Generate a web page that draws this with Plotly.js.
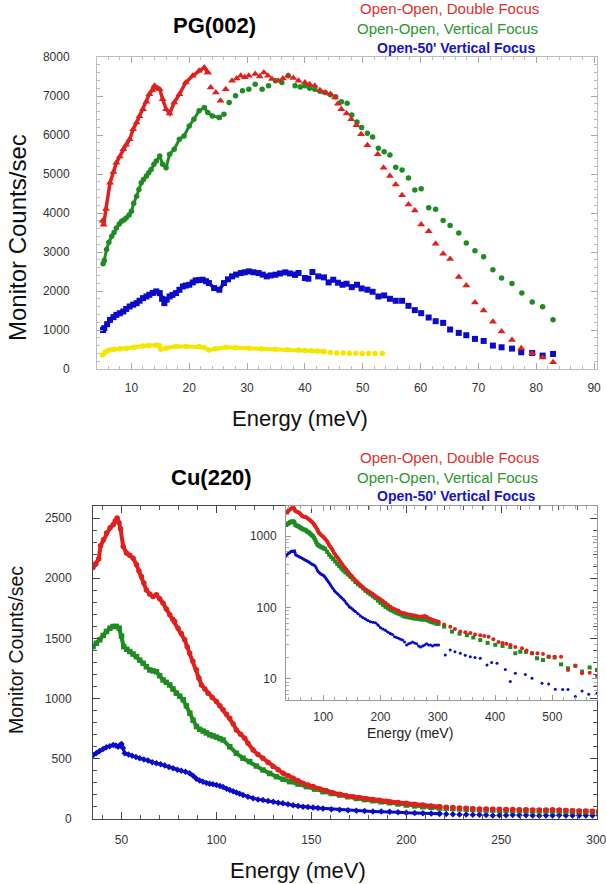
<!DOCTYPE html>
<html>
<head>
<meta charset="utf-8">
<script src="https://cdn.plot.ly/plotly-3.0.1.min.js"></script>
<style>html,body{margin:0;padding:0;background:#fff;}#chart{width:606px;height:884px;}</style>
</head>
<body>
<div id="chart"></div>
<script>
// ---------------- PG(002) data (Energy meV, Monitor counts/sec) ----------------
const pgRedE = [5.0,5.2,5.6,6.3,6.9,7.4,8.0,8.6,9.1,9.7,10.3,10.9,11.4,12.0,12.6,13.1,13.6,14.0,14.5,14.9,15.4,16.0,16.6,17.4,18.3,19.4,20.6,21.7,22.6,23.2,
  23.7,24.6,25.4,26.3,27.4,28.2,28.9,29.6,30.3,31.4,32.2,32.9,33.6,34.3,35.4,36.2,37.1,38.0,38.9,40.0,40.8,41.7,42.6,43.5,44.4,45.2,45.7,46.3,47.2,48.0,48.9,49.7,50.8,52.6,53.6,54.7,55.7,56.8,57.9,59.0,60.1,61.4,62.6,63.9,65.1,66.6,67.9,69.4,70.9,72.5,74.0,75.8,77.4,79.3,81.1,82.9];
const pgRedC = [3800,3700,4100,4776,5050,5290,5450,5633,5750,5890,6150,6319,6480,6661,6850,7047,7150,7262,7200,7176,6919,6661,6550,6833,7047,7347,7519,7647,7733,7605,
  7218,7090,6876,7176,7390,7450,7519,7480,7519,7562,7500,7605,7520,7433,7390,7450,7519,7460,7390,7347,7300,7262,7150,7090,7050,6962,6800,6661,6550,6404,6250,6018,5735,5504,5161,4947,4733,4458,4218,4064,3703,3532,3214,2957,2820,2357,2143,1706,1500,1209,960,746,532,403,292,172];
const pgGreenE = [5.1,5.3,5.7,6.1,6.6,7.0,7.4,7.9,8.3,8.7,9.1,9.6,10.0,10.4,10.9,11.3,11.7,12.1,12.6,13.0,13.4,13.9,14.3,14.9,15.4,16.0,16.6,17.4,18.3,19.1,20.0,20.8,21.7,22.6,23.2,24.0,25.2,
  26.0,26.9,28.0,29.2,30.3,31.4,32.6,33.7,34.9,36.0,37.1,38.3,39.2,40.0,40.8,41.7,42.6,43.5,44.4,45.3,46.3,47.3,48.1,49.0,49.8,50.8,51.7,52.7,53.7,54.7,55.7,56.8,57.9,59.0,60.1,61.4,62.6,63.9,65.1,66.6,67.9,69.4,70.9,72.5,74.0,75.8,77.5,79.3,81.1,82.9];
const pgGreenC = [2700,2780,3061,3250,3404,3500,3618,3720,3789,3820,3875,3950,4046,4250,4432,4600,4776,4860,4947,5030,5118,5250,5333,5461,5247,5161,5504,5633,5890,5976,6233,6404,6619,6704,6576,6490,6447,
  6533,6833,7004,7133,7176,7304,7176,7262,7390,7347,7520,7262,7230,7262,7200,7176,7120,7090,7030,6980,6850,6816,6516,6336,6190,6044,5950,5658,5573,5487,5170,5101,4895,4587,4621,4132,4098,3807,3678,3489,3232,3035,2880,2546,2332,2194,1946,1715,1595,1260];
const pgBlueE = [5.1,5.3,5.8,6.3,6.9,7.4,8.0,8.6,9.1,9.7,10.3,10.9,11.4,12.0,12.6,13.1,13.7,14.3,14.9,15.3,15.7,16.1,16.6,17.1,17.7,18.3,18.9,19.4,20.0,20.6,21.1,21.7,22.3,22.9,23.4,24.3,25.2,26.0,26.7,27.4,28.1,28.9,29.6,30.3,31.1,32.0,32.7,33.4,34.1,34.9,35.7,36.6,37.4,38.3,
  38.9,40.0,40.6,41.3,42.3,43.3,44.1,44.9,45.7,46.5,47.2,48.1,49.0,49.8,50.8,51.7,52.7,53.7,54.7,55.7,56.8,57.9,59.0,60.1,61.4,62.6,63.9,65.1,66.6,67.9,69.4,70.9,72.5,74.0,75.8,77.4,79.3,81.1,82.9];
const pgBlueC = [1000,1046,1150,1260,1330,1389,1430,1475,1540,1603,1650,1689,1750,1817,1860,1903,1950,1989,1946,1800,1689,1780,1860,1900,1946,2030,2117,2140,2160,2220,2271,2280,2289,2250,2203,2075,2032,2203,2300,2375,2420,2460,2480,2503,2480,2460,2420,2375,2400,2418,2450,2478,2450,2418,
  2461,2332,2315,2487,2375,2349,2220,2289,2212,2160,2186,2100,2160,2066,2032,1980,1860,1886,1800,1749,1749,1620,1509,1432,1320,1226,1183,1012,926,866,772,720,600,557,523,429,412,343,386];
const pgYellowE = [5.0,5.4,5.8,6.3,7.0,8.0,9.1,10.5,12.0,13.0,14.3,14.8,15.1,16.0,17.7,19.5,21.7,22.6,23.4,24.5,26.3,28.0,30.3,32.5,34.9,37.0,38.9,40.0,41.1,42.2,43.3,44.4,45.5,46.6,47.7,48.8,49.9,51.0,52.1,53.4];
const pgYellowC = [360,420,460,489,505,520,532,560,592,605,617,600,506,540,575,580,575,550,489,520,557,545,532,520,506,495,489,472,465,463,450,420,410,410,405,405,400,400,398,395];
// energies below which points are densely packed
const pgDenseCut = {red: 23.2, green: 25.2, blue: 38.3, yellow: 43.3};

// ---------------- Cu(220) data ----------------
const cuRedE = [35.0,36.5,38.0,39.0,40.5,42.1,44.0,45.6,46.7,47.7,48.7,49.5,50.9,52.6,54.3,56.1,57.9,59.2,60.5,61.8,63.1,64.8,66.6,68.4,70.1,71.9,73.6,75.4,77.0,78.0,79.8,81.5,83.3,84.6,85.9,87.6,89.4,90.8,92.1,93.9,95.6,97.8,100.0,101.8,103.5,105.3,107.0,108.8,110.5,112.7,114.9,116.6,119.3,121.9,124.5,127.2,129.8,132.5,135.1,137.8,140.4,143.0,145.6,148.2,150.9,154.4,157.9,161.4,164.9,168.4,171.9,175.4,178.9,182.4,185.9,189.4,191.2,195.6,200.0,204.4,208.7,213.1,217.5,
  221.0,224.5,228.0,231.5,235.0,238.5,242.0,245.5,249.0,252.5,256.0,259.5,263.0,266.5,270.0,273.5,277.0,280.5,284.0,287.5,291.0,294.5,298.0,301.4,311.0,321.8,330.0,339.3,348.0,356.8,365.0,374.2,381.0,388.8,397.0,406.2,413.0,419.7,427.0,435.4,447.1,455.0,464.5,474.0,483.7,493.6,504.0,515.2,527.4,540.2,551.9,565.2,578.0];
const cuRedC = [2090,2120,2160,2270,2320,2375,2420,2444,2475,2500,2460,2410,2264,2209,2190,2167,2112,2060,2014,1960,1903,1870,1848,1862,1830,1793,1745,1696,1660,1641,1585,1540,1488,1430,1377,1310,1239,1170,1114,1080,1045,1010,976,940,907,870,837,790,740,705,671,629,574,535,505,470,437,410,380,360,338,318,297,282,269,250,235,217,205,193,185,176,169,162,156,148,144,137,130,123,116,108,102,
  98,95,92,90,86,84,83,81,80,79,78,77,76,75,74,75,76,74,71,69,67,66,64,63,58,54,50,46,45,44,42,41,40,39,36,33,32,31,30,28,27,25,23,23,22.4,20.5,20.5,20.5,13.4,15.3,12.0,12.2,11.0];
const cuGreenE = [35.0,36.8,38.6,40.4,42.1,43.9,45.6,47.2,48.8,50.0,51.2,52.8,54.4,56.1,57.9,59.6,61.4,63.1,64.9,66.6,68.4,70.1,71.9,73.6,75.4,77.1,78.9,80.7,82.5,84.2,86.0,87.7,89.5,91.2,93.0,94.7,96.5,98.2,100.0,101.8,103.5,107.0,110.5,114.0,117.5,121.0,124.5,128.0,131.6,135.1,138.6,143.0,147.4,151.7,156.1,160.5,164.9,169.3,173.7,178.0,182.4,186.8,191.2,195.6,200.0,204.4,208.7,213.1,217.5,
  221.0,224.5,228.0,231.5,235.0,238.5,242.0,245.5,249.0,252.5,256.0,259.5,263.0,266.5,270.0,273.5,277.0,280.5,284.0,287.5,291.0,294.5,298.0,301.4,311.0,324.8,338.0,351.0,362.0,374.2,387.0,400.4,413.0,426.6,435.4,444.1,454.1,464.5,473.3,483.7,493.6,504.0,515.2,527.4,540.2,551.9,565.2,578.0];
const cuGreenC = [1432,1460,1488,1525,1558,1585,1599,1600,1585,1520,1432,1410,1391,1370,1349,1320,1294,1265,1238,1230,1224,1190,1155,1135,1114,1080,1045,1020,990,940,879,820,768,745,730,715,700,690,680,668,657,600,546,505,477,440,407,378,352,330,310,290,269,248,227,212,199,185,171,161,152,143,135,125,116,109,102,97,93,
  90,87,84,82,80,77,75,74,73,72,71,70,70,69,68,68,68,67,65,63,62,61,59,59,54,46,43,41,38,35,32,30,29,28,22.9,24.1,24,22.9,19.5,18.4,20.5,20,16,14.1,15.3,12.7,14.5,13.4];
const cuBlueE = [35.1,36.8,38.5,40.3,42.0,43.8,45.6,47.0,48.2,49.2,50.0,50.8,51.7,53.7,55.6,57.6,59.6,61.8,64.0,66.2,68.4,70.6,72.8,75.0,77.2,79.4,81.5,83.7,85.9,87.7,89.4,91.1,92.9,94.7,96.4,98.2,100.0,101.8,103.5,105.3,107.0,108.8,110.5,112.2,114.0,116.6,119.3,121.9,124.5,127.2,129.9,132.5,135.0,137.7,140.4,143.0,145.6,148.2,150.9,153.5,156.1,160.5,164.9,169.3,173.7,178.0,182.4,186.8,191.2,195.6,200.0,204.4,208.7,213.1,217.5,
  221.0,224.5,228.0,231.5,235.0,238.5,242.0,245.5,249.0,252.5,256.0,259.5,263.0,266.5,270.0,273.5,277.0,280.5,284.0,287.5,291.0,294.5,298.0,301.4,313.1,321.8,330.0,339.3,348.0,356.8,365.0,374.2,385.9,394.0,403.4,417.9,426.6,435.4,452.8,464.5,482.0,493.6,505.2,518.1,527.4,540.2,551.9,563.5,578.0];
const cuBlueC = [532,548,565,582,595,605,615,610,601,612,623,590,546,535,525,515,505,495,485,472,463,455,445,432,421,410,400,392,380,360,335,320,310,300,293,288,283,275,265,252,241,230,220,210,199,185,172,163,157,150,143,136,130,123,115,108,102,99,95,91,88,82,76,72,69,66,63,62,61,57,52,50,48,45,43,
  42,39,38,37,36,35,33,30,31,32,33,32,31,29,28,29,30,31,30,30,29,30,30,30,21.7,25.5,24,22.9,21.5,20.5,20,19.5,15.7,17,16.6,13.6,9.2,12,11.6,10.2,8.7,8.5,7.2,7.1,7.1,5.7,6.8,6.1,6.3];
const cuDenseCut = 217.5;

// tick labels
const insetYTicks = [10, 100, 1000];
const insetYMinor = [6,7,8,9,20,30,40,50,60,70,80,90,200,300,400,500,600,700,800,900,2000];

// ---------------- helpers ----------------
const W = 606, H = 884;
const FONT = 'Liberation Sans, Arial, Helvetica, sans-serif';
const RED = '#e0201c', GREEN = '#1f8c22', BLUE = '#0a0ac8', YELLOW = '#f4e600';
const fx = x => x / W, fy = y => 1 - y / H;

function pick(E, C, test) {
  const x = [], y = [];
  E.forEach((e, i) => { if (test(e)) { x.push(e); y.push(C[i]); } });
  return {x, y};
}
function series(E, C, cut, color, symbol, size, lw, xa, ya) {
  const d = pick(E, C, e => e <= cut), s = pick(E, C, e => e >= cut);
  const mk = {color: color, symbol: symbol, size: size, line: {width: 0}};
  return [
    {type: 'scatter', mode: 'lines+markers', x: d.x, y: d.y, xaxis: xa, yaxis: ya,
     line: {color: color, width: lw}, marker: mk, showlegend: false, hoverinfo: 'skip', cliponaxis: true},
    {type: 'scatter', mode: 'markers', x: s.x, y: s.y, xaxis: xa, yaxis: ya,
     marker: mk, showlegend: false, hoverinfo: 'skip', cliponaxis: true}
  ];
}

const traces = [].concat(
  series(pgYellowE, pgYellowC, pgDenseCut.yellow, YELLOW, 'circle', 5.5, 4, 'x', 'y'),
  series(pgBlueE, pgBlueC, pgDenseCut.blue, BLUE, 'square', 6, 3.5, 'x', 'y'),
  series(pgGreenE, pgGreenC, pgDenseCut.green, GREEN, 'circle', 5.5, 3, 'x', 'y'),
  series(pgRedE, pgRedC, pgDenseCut.red, RED, 'triangle-up', 7, 3.5, 'x', 'y'),
  series(cuBlueE, cuBlueC, cuDenseCut, BLUE, 'diamond', 5, 3, 'x2', 'y2'),
  series(cuGreenE, cuGreenC, cuDenseCut, GREEN, 'square', 5.5, 4, 'x2', 'y2'),
  series(cuRedE, cuRedC, cuDenseCut, RED, 'circle', 5.5, 4, 'x2', 'y2'),
  series(cuBlueE, cuBlueC, cuDenseCut, BLUE, 'circle', 3, 2, 'x3', 'y3'),
  series(cuGreenE, cuGreenC, cuDenseCut, GREEN, 'square', 4, 3, 'x3', 'y3'),
  series(cuRedE, cuRedC, cuDenseCut, RED, 'circle', 4, 3, 'x3', 'y3')
);

const tickFont = {family: FONT, size: 12, color: '#333'};
function ax(o) {
  return Object.assign({showgrid: false, zeroline: false, showline: true, mirror: 'allticks',
    ticks: 'inside', tickfont: tickFont, fixedrange: true, ticklabeloverflow: 'allow'}, o);
}

const layout = {
  width: W, height: H, autosize: false,
  margin: {l: 0, r: 0, t: 0, b: 0, pad: 0},
  paper_bgcolor: '#fff', plot_bgcolor: 'rgba(0,0,0,0)',
  showlegend: false, hovermode: false,
  font: {family: FONT},
  xaxis: ax({domain: [fx(97), fx(597)], range: [4.05, 90.5], anchor: 'y', dtick: 10, tick0: 0,
    linecolor: '#bdbdbd', tickcolor: '#a8a8a8', ticklen: 6, ticklabelstandoff: 8,
    minor: {ticks: 'inside', dtick: 2, tick0: 0, ticklen: 3, tickcolor: '#bdbdbd'}}),
  yaxis: ax({domain: [fy(369), fy(57)], range: [0, 8000], anchor: 'x', dtick: 1000, tick0: 0,
    linecolor: '#bdbdbd', tickcolor: '#a8a8a8', ticklen: 6, ticklabelstandoff: 24,
    minor: {ticks: 'inside', dtick: 200, tick0: 0, ticklen: 3, tickcolor: '#bdbdbd'}}),
  xaxis2: ax({domain: [fx(93), fx(597)], range: [35, 300.4], anchor: 'y2', dtick: 50, tick0: 0,
    linecolor: '#444', tickcolor: '#444', ticklen: 7, ticklabelstandoff: 10,
    minor: {ticks: 'inside', dtick: 10, tick0: 0, ticklen: 4, tickcolor: '#555'}}),
  yaxis2: ax({domain: [fy(819), fy(506)], range: [0, 2600], anchor: 'x2', dtick: 500, tick0: 0,
    linecolor: '#444', tickcolor: '#444', ticklen: 7, ticklabelstandoff: 18,
    minor: {ticks: 'inside', dtick: 100, tick0: 0, ticklen: 4, tickcolor: '#555'}}),
  xaxis3: ax({domain: [fx(286), fx(597)], range: [35, 578], anchor: 'y3', dtick: 100, tick0: 0,
    linecolor: '#9a9a9a', tickcolor: '#9a9a9a', ticklen: 5, ticklabelstandoff: 6,
    minor: {ticks: 'inside', dtick: 20, tick0: 0, ticklen: 3, tickcolor: '#aaa'}}),
  yaxis3: ax({domain: [fy(700), fy(506)], type: 'log', range: [0.706, 3.42], anchor: 'x3',
    tickmode: 'array', tickvals: insetYTicks, ticktext: insetYTicks.map(String),
    linecolor: '#9a9a9a', tickcolor: '#9a9a9a', ticklen: 5, ticklabelstandoff: 6,
    minor: {ticks: 'inside', tickmode: 'array', tickvals: insetYMinor, ticklen: 3, tickcolor: '#aaa'}}),
  annotations: []
};

function txt(text, x, y, size, color, opts) {
  layout.annotations.push(Object.assign({text: text, x: fx(x), y: fy(y), xref: 'paper', yref: 'paper',
    xanchor: 'center', yanchor: 'middle', showarrow: false,
    font: {family: FONT, size: size, color: color}}, opts || {}));
}
// titles
txt('<b>PG(002)</b>', 214, 25, 22, '#000');
txt('<b>Cu(220)</b>', 211, 478, 22, '#000');
// legend text
txt('Open-Open, Double Focus', 449, 9, 15, '#e0302a');
txt('Open-Open, Vertical Focus', 447, 29, 15, '#2a962e');
txt('<b>Open-50\' Vertical Focus</b>', 456, 48, 14, '#1414c8');
txt('Open-Open, Double Focus', 449, 457, 15, '#e0302a');
txt('Open-Open, Vertical Focus', 447, 477, 15, '#2a962e');
txt('<b>Open-50\' Vertical Focus</b>', 456, 496, 14, '#1414c8');
// axis titles
txt('Energy (meV)', 300, 418, 22, '#111');
txt('Energy (meV)', 298, 870, 22, '#111');
txt('Energy (meV)', 410, 733, 14, '#222');
txt('Monitor Counts/sec', 18, 238, 24, '#111', {textangle: -90});
txt('Monitor Counts/sec', 16, 650, 19.5, '#111', {textangle: -90});

Plotly.newPlot('chart', traces, layout, {staticPlot: true, displayModeBar: false});
</script>
</body>
</html>
